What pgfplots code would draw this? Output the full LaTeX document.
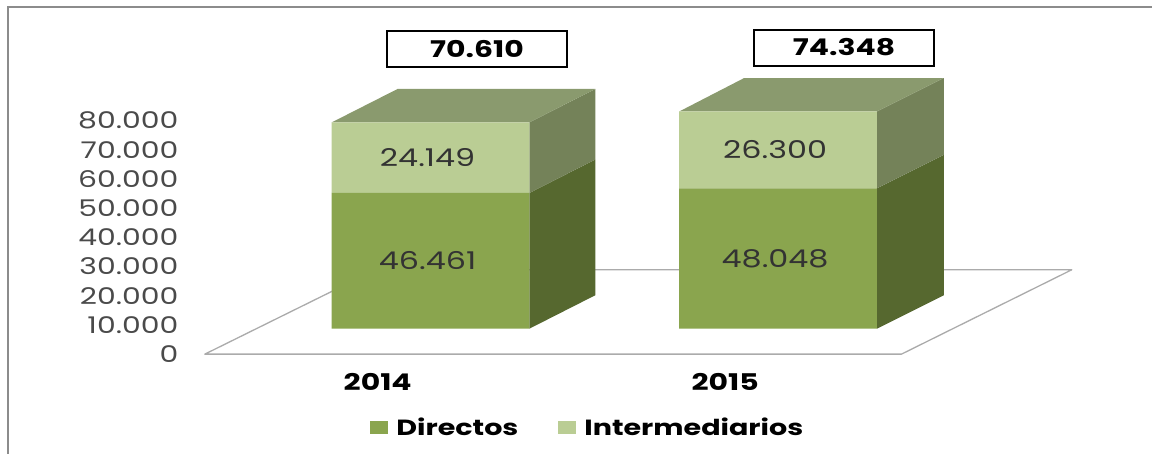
\documentclass[border=0pt]{standalone}
\usepackage{fontspec}
\setmainfont[FakeStretch=1.3]{Poppins}
\usepackage{pgfplots}
\pgfplotsset{compat=1.18}
\usepackage{pgfplotstable}
\definecolor{DirFront}{HTML}{8AA54E}
\definecolor{DirSide}{HTML}{56682F}
\definecolor{IntFront}{HTML}{BACD94}
\definecolor{IntSide}{HTML}{748259}
\definecolor{TopFace}{HTML}{8A9A6E}
\definecolor{FloorLine}{HTML}{ABABAB}
\definecolor{FrameLine}{HTML}{8C8C8C}
\definecolor{TickText}{HTML}{4A4A4A}
\pgfplotstableread{
x dir int
0 46461 24149
1 48048 26300
}\stackdata
\newcommand{\fs}[1]{\fontsize{#1}{#1}\selectfont}
\pgfplotsset{
  canvas/.style={
    scale only axis,width=1153pt,height=454pt,
    xmin=-1.2385,xmax=2.0747,clip=false
  }
}
\begin{document}
\begin{tikzpicture}
% value axis, floor and frame: y=0 sits on the front edge of the floor
\begin{axis}[
  canvas,
  ymin=-34701,ymax=120513,
  axis line style={draw=none},
  major tick length=0pt,
  ytick={0,10000,...,80000},
  scaled y ticks=false,
  xtick={-0.152,0.848},
  xticklabels={2014,2015},
  xticklabel style={font=\fs{23}\bfseries,anchor=center,yshift=72pt,text=black},
  yticklabel style={font=\fs{23},anchor=east,xshift=182pt,yshift=-2pt,text=TickText,
    /pgf/number format/.cd,1000 sep={.},assume math mode=true},
]
\addplot[draw=FloorLine,line width=1.3pt,line join=round,fill=white] coordinates
  {(-0.6494,-684) (1.3550,-684) (1.8450,28200) (-0.1580,28200)} -- cycle;
\addplot[draw=FrameLine,line width=2.8pt] coordinates
  {(-1.2155,-34701) (-1.2155,118120) (2.0747,118120)};
\end{axis}
% side and top faces: y=0 sits on the foot of the bars
\begin{axis}[canvas,hide axis,ymin=-42735,ymax=112479]
\addplot[fill=DirSide,draw=none] coordinates
  {(0.2845,0) (0.4742,11453) (0.4742,57914) (0.2845,46461)} -- cycle;
\addplot[fill=IntSide,draw=none] coordinates
  {(0.2845,46461) (0.4742,57914) (0.4742,82063) (0.2845,70610)} -- cycle;
\addplot[fill=TopFace,draw=none] coordinates
  {(-0.2845,70610) (0.2845,70610) (0.4742,82063) (-0.0948,82063)} -- cycle;
\addplot[fill=DirSide,draw=none] coordinates
  {(1.2845,0) (1.4770,11453) (1.4770,59501) (1.2845,48048)} -- cycle;
\addplot[fill=IntSide,draw=none] coordinates
  {(1.2845,48048) (1.4770,59501) (1.4770,85801) (1.2845,74348)} -- cycle;
\addplot[fill=TopFace,draw=none] coordinates
  {(0.7155,74348) (1.2845,74348) (1.4770,85801) (0.9023,85801)} -- cycle;
\end{axis}
% front faces
\begin{axis}[
  canvas,hide axis,ymin=-42735,ymax=112479,
  ybar stacked,bar width=198pt,
  nodes near coords={\pgfmathprintnumber[1000 sep={.},assume math mode=true]{\pgfplotspointmeta}},
  every node near coord/.append style={font=\fs{24.5},text=black!80,anchor=center,xshift=-3pt},
  legend style={draw=none,fill=none,at={(0.5104,0.0573)},anchor=center,
    font=\fs{22}\bfseries,legend columns=2,
    /tikz/every odd column/.append style={column sep=6pt},
    /tikz/every even column/.append style={column sep=38pt}},
  legend image code/.code={\fill[#1] (0pt,-6.5pt) rectangle (18pt,6.5pt);},
]
\addplot[fill=DirFront,draw=none] table[x=x,y=dir] {\stackdata};
\addlegendentry{Directos}
\addplot[fill=IntFront,draw=none] table[x=x,y=int] {\stackdata};
\addlegendentry{Intermediarios}
% totals above the bars
\node[draw=black,line width=2pt,fill=white,minimum width=180pt,minimum height=36pt,
  inner sep=0pt,font=\fs{23}\bfseries] at (axis cs:0.1336,95726) {\raisebox{-2pt}{70.610}};
\node[draw=black,line width=2pt,fill=white,minimum width=180pt,minimum height=36pt,
  inner sep=0pt,font=\fs{23}\bfseries] at (axis cs:1.1897,96239) {\raisebox{-3pt}{74.348}};
\end{axis}
\end{tikzpicture}
\end{document}
